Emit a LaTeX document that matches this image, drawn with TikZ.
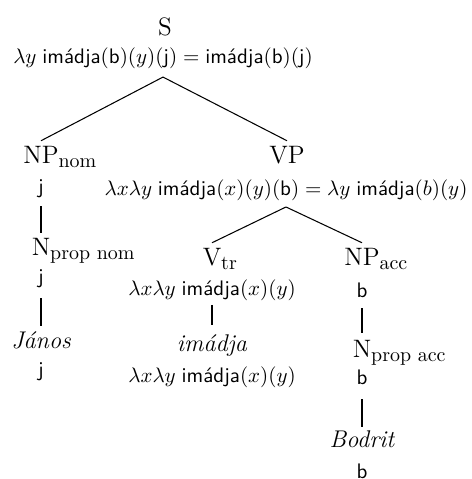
\documentclass[tikz,border=0pt]{standalone}
\usepackage{fontspec}
\usepackage{amsmath}
\newcommand{\catsub}[1]{\rlap{\raisebox{-2pt}{\fontsize{9.5}{11}\selectfont #1}}}
\newcommand{\imd}{\textsf{imádja}}
\tikzset{
  x=0.47619pt, y=-0.47619pt,
  cat/.style={anchor=base, inner sep=0pt, font=\fontsize{12}{14}\selectfont},
  lex/.style={anchor=base, inner sep=0pt, font=\fontsize{11.5}{14}\selectfont\itshape},
  sem/.style={anchor=base, inner sep=0pt, font=\fontsize{10}{12}\selectfont},
  branch/.style={line width=0.5pt},
}
\begin{document}
\begin{tikzpicture}
\useasboundingbox (0,0) rectangle (472,479);
% level 0
\node[cat] (S) at (165,35) {S};
\node[sem] (s1) at (163,63) {$\lambda y\;\imd(\textsf{b})(y)(\textsf{j}) = \imd(\textsf{b})(\textsf{j})$};
% left column
\node[cat] (npnom) at (41,163) {NP\catsub{nom}};
\node[sem] (j1) at (41,193) {\textsf{j}};
\node[cat] (nprnom) at (41,255) {N\catsub{prop nom}};
\node[sem] (j2) at (41,283) {\textsf{j}};
\node[lex] (janos) at (41,348) {János};
\node[sem] (j3) at (41,376) {\textsf{j}};
% VP
\node[cat] (vp) at (287,163) {VP};
\node[sem] (vpf) at (286,195) {$\lambda x\lambda y\;\imd(x)(y)(\textsf{b}) = \lambda y\;\imd(b)(y)$};
% V_tr column
\node[cat] (vtr) at (212,265) {V\catsub{tr}};
\node[sem] (vtrf) at (212,295) {$\lambda x\lambda y\;\imd(x)(y)$};
\node[lex] (imadja) at (212,351) {imádja};
\node[sem] (imf) at (212,382) {$\lambda x\lambda y\;\imd(x)(y)$};
% NP_acc column
\node[cat] (npacc) at (362,265) {NP\catsub{acc}};
\node[sem] (b1) at (362,297) {\textsf{b}};
\node[cat] (npracc) at (362,357) {N\catsub{prop acc}};
\node[sem] (b2) at (362,384) {\textsf{b}};
\node[lex] (bodrit) at (362,447) {Bodrit};
\node[sem] (b3) at (362,478) {\textsf{b}};
% edges
\draw[branch] ([yshift=-4pt]s1.south) -- ([yshift=2.2pt]npnom.north);
\draw[branch] ([yshift=-4pt]s1.south) -- ([yshift=2.2pt]vp.north);
\draw[branch] ([yshift=-4pt]j1.south) -- ([yshift=2.2pt]nprnom.north);
\draw[branch] ([yshift=-5pt]j2.south) -- ([yshift=2.2pt]janos.north);
\draw[branch] ([yshift=-3pt]vpf.south) -- ([yshift=2.2pt]vtr.north);
\draw[branch] ([yshift=-3pt]vpf.south) -- ([yshift=2.2pt]npacc.north);
\draw[branch] ([yshift=-2pt]vtrf.south) -- ([yshift=4pt]imadja.north);
\draw[branch] ([yshift=-5pt]b1.south) -- ([yshift=3pt]npracc.north);
\draw[branch] ([yshift=-7pt]b2.south) -- ([yshift=1.5pt]bodrit.north);
\end{tikzpicture}
\end{document}
